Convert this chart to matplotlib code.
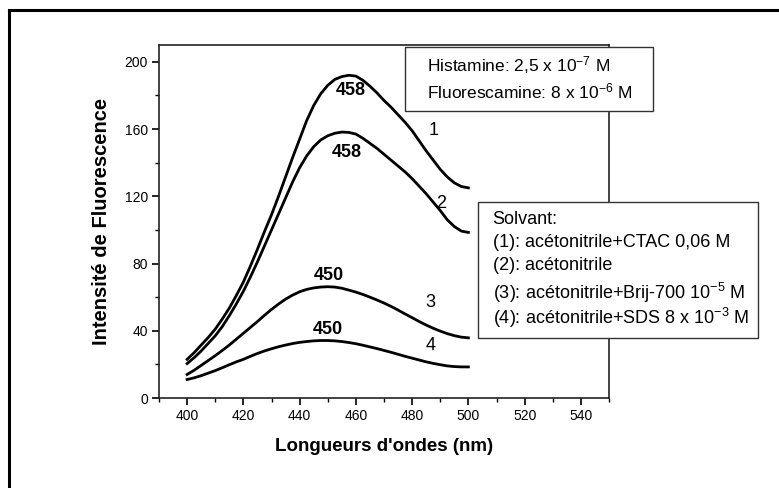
import matplotlib
matplotlib.use("Agg")
import matplotlib.pyplot as plt
from matplotlib.patches import Rectangle
from matplotlib.lines import Line2D
from matplotlib.ticker import MultipleLocator

plt.rcParams['font.family'] = ['Liberation Sans', 'DejaVu Sans']
plt.rcParams['mathtext.fontset'] = 'custom'
plt.rcParams['mathtext.rm'] = 'Liberation Sans'
plt.rcParams['mathtext.default'] = 'regular'

# wavelengths (nm)
wavelength = [400, 402.5, 405, 407.5, 410, 412.5, 415, 417.5, 420, 422.5,
              425, 427.5, 430, 432.5, 435, 437.5, 440, 442.5, 445, 447.5,
              450, 452.5, 455, 457.5, 460, 462.5, 465, 467.5, 470, 472.5,
              475, 477.5, 480, 482.5, 485, 487.5, 490, 492.5, 495, 497.5, 500]

# (1) acetonitrile + CTAC 0,06 M
curve1 = [23, 27, 31.5, 36, 41, 47, 53.5, 61, 69, 78.5,
          88.5, 99, 109, 120, 131.5, 143, 154, 165, 174, 181,
          186, 189.5, 191.2, 192, 191.5, 189, 185.5, 181.5, 177, 173,
          168.5, 164, 159, 153, 147, 141.5, 136, 131.5, 128, 125.8, 125]
# (2) acetonitrile
curve2 = [20.5, 24, 28, 32.5, 37, 42.5, 49, 56, 63.5, 72,
          81, 90.5, 100, 109.5, 119, 128.5, 137, 144, 149.5, 153.5,
          156, 157.5, 158.2, 158, 157, 154.5, 151.5, 148.5, 145, 141.5,
          138, 134.5, 130.5, 126, 121.5, 116.5, 111.5, 106, 102, 99.3, 98.5]
# (3) acetonitrile + Brij-700
curve3 = [14, 16.5, 19.4, 22.3, 25.2, 28.3, 31.5, 35, 38.5, 42,
          45.5, 49.2, 52.7, 55.9, 58.8, 61.2, 63.2, 64.6, 65.5, 66,
          66.2, 66, 65.3, 64.2, 63, 61.6, 60, 58.3, 56.5, 54.5,
          52.3, 50, 47.8, 45.5, 43.4, 41.5, 39.8, 38.3, 37.1, 36.2, 35.8]
# (4) acetonitrile + SDS
curve4 = [11, 12, 13.3, 14.8, 16.3, 18, 19.8, 21.5, 23, 24.8,
          26.5, 28, 29.3, 30.5, 31.5, 32.4, 33.1, 33.6, 34, 34.2,
          34.2, 34, 33.6, 33, 32.3, 31.4, 30.4, 29.4, 28.3, 27.2,
          26, 24.8, 23.7, 22.6, 21.5, 20.6, 19.8, 19.1, 18.7, 18.5, 18.5]

curves = [curve1, curve2, curve3, curve4]
curve_names = ["1", "2", "3", "4"]
name_pos = [(487.8, 159), (490.2, 115.5), (486.6, 56.7), (486.6, 31)]

peak_labels = ["458", "458", "450", "450"]
peak_pos = [(458.2, 182.7), (456.7, 146), (450.5, 72.6), (449.9, 40.9)]

fig = plt.figure(figsize=(7.79, 4.88), dpi=100)
ax = fig.add_axes([0.2041, 0.1844, 0.5777, 0.7234])

for y in curves:
    ax.plot(wavelength, y, color='black', lw=2.0, solid_joinstyle='round')

for name, (x, y) in zip(curve_names, name_pos):
    ax.text(x, y, name, fontsize=13, ha='center', va='center')

for lab, (x, y) in zip(peak_labels, peak_pos):
    ax.text(x, y, lab, fontsize=13, fontweight='bold', ha='center', va='center')

ax.set_xlim(390, 550)
ax.set_ylim(0, 210)
ax.set_xticks(range(400, 541, 20))
ax.set_yticks(range(0, 201, 40))
ax.xaxis.set_minor_locator(MultipleLocator(10))
ax.yaxis.set_minor_locator(MultipleLocator(20))
ax.tick_params(which='major', direction='out', length=5, width=1.2,
               labelsize=10, pad=3, top=False, right=False)
ax.tick_params(which='minor', direction='out', length=3, width=1.0,
               top=False, right=False)
for sp in ax.spines.values():
    sp.set_linewidth(1.2)
    sp.set_color('#222222')

ax.set_xlabel("Longueurs d'ondes (nm)", fontsize=13.5, fontweight='bold', labelpad=11)
ax.set_ylabel("Intensité de Fluorescence", fontsize=14.5, fontweight='bold', labelpad=10)

# boxes drawn over the axes, in pixel units of the 779x488 image
W, H = 779.0, 488.0


def fig_box(x0, y0, x1, y1):
    r = Rectangle((x0 / W, 1 - y1 / H), (x1 - x0) / W, (y1 - y0) / H,
                  transform=fig.transFigure, facecolor='white',
                  edgecolor='#333333', lw=1.0, zorder=5)
    fig.add_artist(r)


def fig_text(x, y, s, size):
    fig.text(x / W, 1 - y / H, s, fontsize=size, ha='left', va='center', zorder=6)


fig_box(405, 47, 653, 111)
fig_text(426.7, 65, "Histamine: 2,5 x 10$^{-7}$ M", 12.5)
fig_text(426.7, 91.7, "Fluorescamine: 8 x 10$^{-6}$ M", 12.5)

fig_box(478, 202, 758, 338)
fig_text(492.7, 220, "Solvant:", 13)
fig_text(492.7, 242.7, "(1): acétonitrile+CTAC 0,06 M", 13)
fig_text(492.7, 266, "(2): acétonitrile", 13)
fig_text(492.7, 293.3, "(3): acétonitrile+Brij-700 10$^{-5}$ M", 13)
fig_text(492.7, 318.3, "(4): acétonitrile+SDS 8 x 10$^{-3}$ M", 13)

# outer frame (top and left edges only)
fig.add_artist(Line2D([9 / W, 1.0], [1 - 10 / H, 1 - 10 / H],
                      transform=fig.transFigure, color='black', lw=2.2))
fig.add_artist(Line2D([9 / W, 9 / W], [1 - 10 / H, 0.0],
                      transform=fig.transFigure, color='black', lw=2.2))

fig.savefig("out.png", dpi=100)
